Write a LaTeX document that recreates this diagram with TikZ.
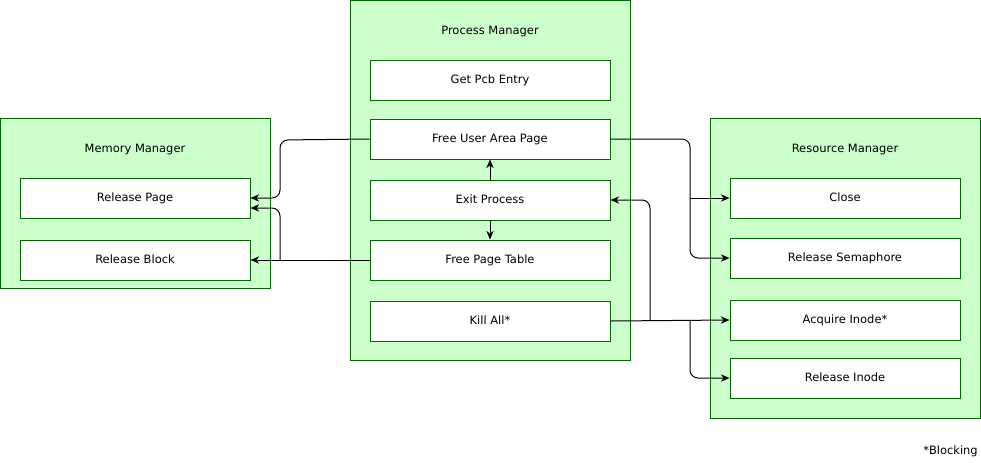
\documentclass[tikz,border=0pt]{standalone}
\usepackage{fontspec}
\setmainfont{DejaVu Sans}
\usetikzlibrary{arrows.meta}
\definecolor{boxgreen}{HTML}{006600}
\definecolor{areagreen}{HTML}{CCFFCC}

\begin{document}
\begin{tikzpicture}[x=0.75pt, y=-0.75pt, >={Stealth[length=6.5pt,width=5.5pt]},
    font=\fontsize{8.6}{10}\selectfont,
    manager/.style ={draw=boxgreen, fill=areagreen, line width=0.75pt, inner sep=0pt},
    task/.style ={draw=boxgreen, fill=white, line width=0.75pt, minimum width=172.5pt, minimum height=30pt, inner sep=0pt, text height=6.5pt, text depth=1.8pt},
    wide/.style ={task, minimum width=180pt},
    link/.style ={line width=0.75pt, ->, rounded corners=6pt}]
   \useasboundingbox (0,0) rectangle (981,462);
   % the three managers
   \node[manager, minimum width=202.5pt, minimum height=127.5pt] (M) at (135,203) {};
   \node[manager, minimum width=210pt, minimum height=270pt] (P) at (490,180) {};
   \node[manager, minimum width=202.5pt, minimum height=225pt] (R) at (845,268) {};
   \node (Mt) at (135,150) {Memory Manager};
   \node (Pt) at (490,32) {Process Manager};
   \node (Rt) at (845,150) {Resource Manager};
   % memory manager
   \node[task] (A) at (135,198) {Release Page};
   \node[task] (B) at (135,260) {Release Block};
   % process manager
   \node[wide] (C) at (490,80) {Get Pcb Entry};
   \node[wide] (D) at (490,139) {Free User Area Page};
   \node[wide] (E) at (490,200) {Exit Process};
   \node[wide] (F) at (490,260) {Free Page Table};
   \node[wide] (G) at (490,321) {Kill All*};
   % resource manager
   \node[task] (H) at (845,198) {Close};
   \node[task] (I) at (845,258) {Release Semaphore};
   \node[task] (J) at (845,320) {Acquire Inode*};
   \node[task] (K) at (845,378) {Release Inode};
   \node[anchor=east, inner sep=0pt] (N) at (978,451) {*Blocking};
   % branch points
   \coordinate (s1) at (280,260);
   \coordinate (s2) at (690,198);
   \coordinate (s3) at (690,321);
   \coordinate (s4) at (650,321);
   % connectors
   \draw[link] (D.west) -- (280,140) |- (A.east);
   \draw[link] (F.west) -- (B.east);
   \draw[link] (s1) |- ([yshift=-7.5pt]A.east);
   \draw[link] (E.north) to (D.south);
   \draw[link] (E.south) to (F.north);
   \draw[link] (D.east) -- (690,139) |- (I.west);
   \draw[link] (s2) to (H.west);
   \draw[link] (G.east) to (J.west);
   \draw[link] (s3) |- (K.west);
   \draw[link] (s4) |- (E.east);
 \end{tikzpicture}
\end{document}
